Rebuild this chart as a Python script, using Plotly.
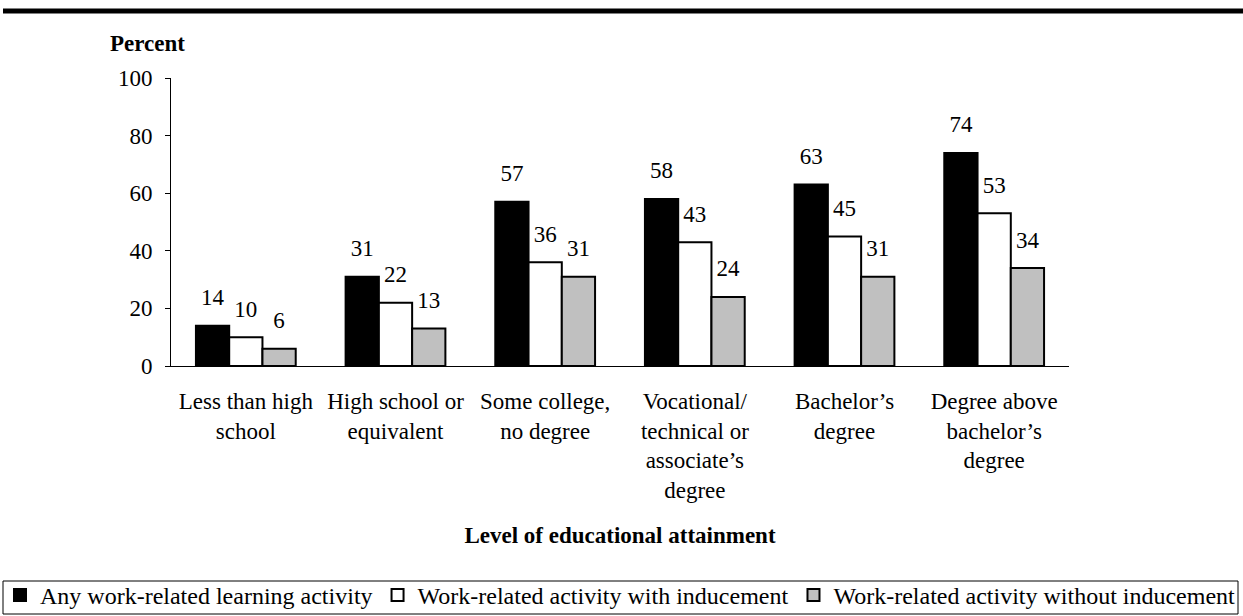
import plotly.graph_objects as go

categories = [
    "Less than high<br>school",
    "High school or<br>equivalent",
    "Some college,<br>no degree",
    "Vocational/<br>technical or<br>associate’s<br>degree",
    "Bachelor’s<br>degree",
    "Degree above<br>bachelor’s<br>degree",
]
any_activity = [14, 31, 57, 58, 63, 74]
with_inducement = [10, 22, 36, 43, 45, 53]
without_inducement = [6, 13, 31, 24, 31, 34]

series_names = [
    "Any work-related learning activity",
    "Work-related activity with inducement",
    "Work-related activity without inducement",
]
series_values = [any_activity, with_inducement, without_inducement]
series_colors = ["#000000", "#FFFFFF", "#C0C0C0"]

FONT = "Liberation Serif"
FS = 23

fig = go.Figure()
for i, (name, vals, col) in enumerate(zip(series_names, series_values, series_colors)):
    fig.add_trace(go.Bar(
        x=categories, y=vals, name=name,
        marker=dict(color=col, line=dict(color="#000000", width=2)),
        offsetgroup=str(i),
        hoverinfo="skip",
    ))
for i, vals in enumerate(series_values):
    fig.add_trace(go.Scatter(
        x=categories, y=vals, mode="markers+text",
        text=[str(v) for v in vals], textposition="top center",
        textfont=dict(family=FONT, size=FS, color="#000000"),
        marker=dict(size=22, color="rgba(0,0,0,0)"),
        offsetgroup=str(i), showlegend=False, hoverinfo="skip",
        cliponaxis=False,
    ))

W, H = 1243, 616
L, R, T, B = 171, 1069, 78, 366

def px_x(p):
    return p / W

def px_y(p):
    return (B - p) / (B - T)

fig.update_layout(
    width=W, height=H,
    margin=dict(l=0, r=0, t=T, b=H - B, autoexpand=False),
    paper_bgcolor="white", plot_bgcolor="white",
    font=dict(family=FONT, size=FS, color="#000000"),
    barmode="group", bargap=1/3, bargroupgap=0,
    scattermode="group", scattergap=1/3,
    showlegend=True,
    legend=dict(
        orientation="h",
        x=px_x(0), xanchor="left", y=px_y(573), yanchor="top",
        borderwidth=0, bgcolor="rgba(0,0,0,0)",
        font=dict(family=FONT, size=24, color="#000000"),
        itemwidth=30, tracegroupgap=0,
    ),
    xaxis=dict(
        domain=[px_x(L), px_x(R)],
        showline=True, linecolor="#000000", linewidth=1,
        ticks="", showgrid=False, zeroline=False,
        tickfont=dict(family=FONT, size=FS),
        ticklabelstandoff=14,
        title=dict(text="<b>Level of educational attainment</b>",
                   font=dict(family=FONT, size=FS), standoff=24),
    ),
    yaxis=dict(
        range=[0, 100], tickvals=[0, 20, 40, 60, 80, 100],
        showline=True, linecolor="#000000", linewidth=1,
        ticks="outside", ticklen=5, tickcolor="#000000",
        showgrid=False, zeroline=False,
        tickfont=dict(family=FONT, size=FS),
        ticklabelstandoff=8,
    ),
    annotations=[dict(
        text="<b>Percent</b>", xref="paper", yref="paper",
        x=px_x(147), y=px_y(44),
        xanchor="center", yanchor="middle", showarrow=False,
        font=dict(family=FONT, size=FS, color="#000000"),
    )],
    shapes=[
        dict(
            type="line", xref="paper", yref="paper",
            x0=px_x(3), x1=px_x(1243),
            y0=px_y(11), y1=px_y(11),
            line=dict(color="#000000", width=5),
        ),
        dict(
            type="rect", xref="paper", yref="paper",
            x0=px_x(3), x1=px_x(1238),
            y0=px_y(614), y1=px_y(581),
            line=dict(color="#000000", width=1),
            fillcolor="rgba(0,0,0,0)", layer="below",
        ),
    ],
)

fig.write_html("out.html", config={"displayModeBar": False},
               post_script="document.body.style.margin='0px';")
